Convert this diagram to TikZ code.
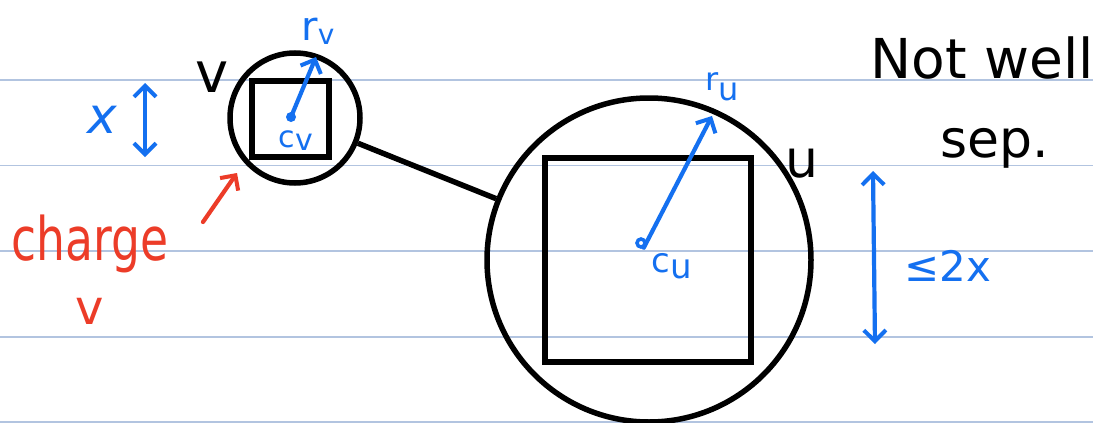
\documentclass[tikz,border=0pt]{standalone}
\usepackage{fontspec}
\setmainfont{DejaVu Sans}
\usetikzlibrary{arrows.meta}
\definecolor{rule}{RGB}{178,196,224}
\definecolor{pen}{RGB}{20,112,240}
\definecolor{redpen}{RGB}{236,60,40}
\tikzset{
  ink/.style={line width=5.5pt, draw=black},
  blueink/.style={line width=4.2pt, draw=pen, line cap=round},
  redink/.style={line width=4.2pt, draw=redpen, line cap=round},
  barb/.style={-{Straight Barb[length=11pt,width=22pt,line width=4pt]}},
  dbarb/.style={{Straight Barb[length=11pt,width=22pt,line width=4pt]}-{Straight Barb[length=11pt,width=22pt,line width=4pt]}},
  lab/.style={inner sep=0pt, anchor=base},
}
\newcommand{\fs}[1]{\fontsize{#1}{#1}\selectfont}
\begin{document}
\begin{tikzpicture}[x=1pt,y=-1pt]
\useasboundingbox[fill=white] (0,0) rectangle (1093,423);
% ruled lines
\foreach \yy in {80,165.5,251,337,422}
  \draw[rule, line width=1.5pt] (0,\yy) -- (1093,\yy);
% small cell v
\node[circle, ink, minimum size=130pt, inner sep=0pt] (vcirc) at (295,118) {};
\node[rectangle, ink, minimum width=77pt, minimum height=76pt, inner sep=0pt] (vbox) at (290.5,119) {};
% big cell u
\node[circle, ink, minimum size=324pt, inner sep=0pt] (ucirc) at (649,260) {};
\node[rectangle, ink, minimum width=206pt, minimum height=204pt, inner sep=0pt] (ubox) at (648,260) {};
% connector
\draw[ink] (vcirc) -- (ucirc);
% centres and radii
\coordinate (cv) at (291,117);
\coordinate (rvtip) at (316,57);
\fill[pen] (cv) circle (5pt);
\draw[blueink, barb] (cv) -- (rvtip);
\coordinate (cu) at (641,243);
\coordinate (rutip) at (712,116);
\draw[pen, line width=3.5pt] (cu) circle (4pt);
\draw[blueink, barb] (cu) ++(-60:5.5pt) -- (rutip);
% labels
\node[lab, text=pen] (rv) at (318,40) {\fs{40}r\raisebox{-5pt}{\fs{28}v}};
\node[lab, text=pen] (cvl) at (296,147) {\fs{30}c\raisebox{-3pt}{v}};
\node[lab, text=pen] (rul) at (722,90) {\fs{32}r\raisebox{-10pt}{u}};
\node[lab, text=pen] (cul) at (672,272) {\fs{34}c\raisebox{-6pt}{u}};
\node[lab] (vl) at (212,92) {\fs{56}v};
\node[lab] (ul) at (802,177) {\fs{52}u};
\node[lab] (nw) at (982,78) {\fs{55}Not well};
\node[lab] (sep) at (995,157) {\fs{52}sep.};
% x dimension
\node[lab, text=pen] (xl) at (102,133) {\fs{50}\itshape x};
\coordinate (xa) at (145,83);
\coordinate (xb) at (145,157);
\draw[blueink, dbarb] (xa) -- (xb);
% <= 2x dimension
\coordinate (ya) at (873,171);
\coordinate (yb) at (875,344);
\draw[blueink, dbarb] (ya) -- (yb);
\node[lab, text=pen] (le) at (948,281) {\fs{42}≤2x};
% charge v
\node[lab, text=redpen] (ch) at (90,260) {\scalebox{0.76}[1]{\fs{60}charge}};
\node[lab, text=redpen] (chv) at (90,324) {\fs{48}v};
\coordinate (ra) at (203,222);
\coordinate (rb) at (237,173);
\draw[redink, barb] (ra) -- (rb);
\end{tikzpicture}
\end{document}
